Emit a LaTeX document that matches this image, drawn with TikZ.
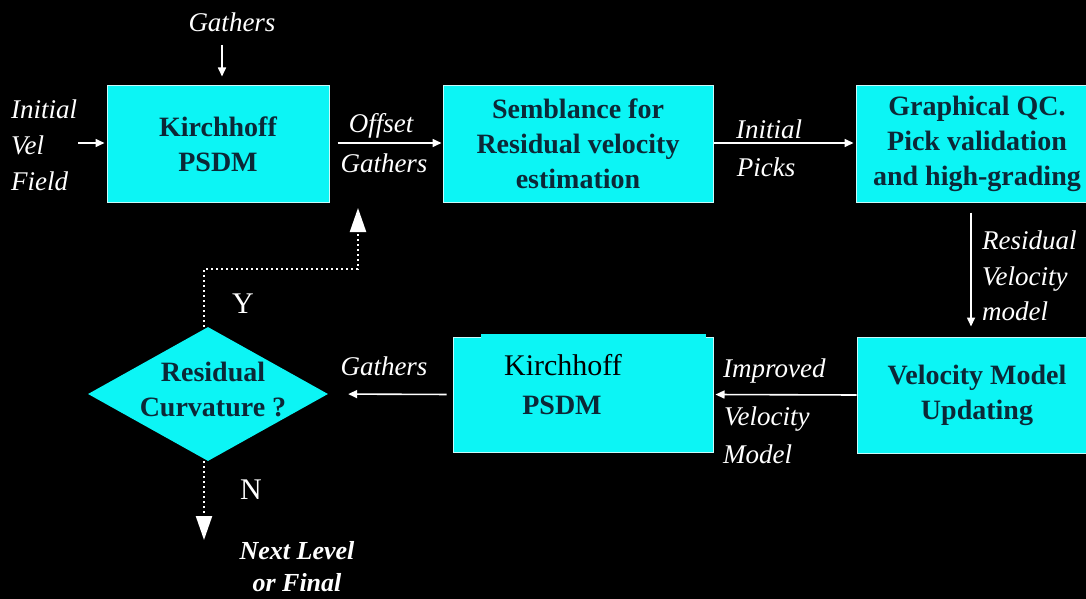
\documentclass[tikz,border=0pt]{standalone}
\usepackage{fontspec}
\setmainfont{Liberation Serif}
\usetikzlibrary{arrows.meta,shapes.geometric}
\definecolor{boxcyan}{RGB}{12,245,245}
\definecolor{boxtext}{RGB}{12,40,55}
\definecolor{boxedge}{RGB}{200,250,250}
\begin{document}
\begin{tikzpicture}[x=1pt,y=-1pt,
  box/.style={draw=boxedge, line width=1pt, fill=boxcyan, inner sep=0pt,
    align=center, text=boxtext, font=\fontsize{28}{35}\selectfont\bfseries},
  lbl/.style={text=white, inner sep=0pt, align=left, font=\fontsize{27}{36}\selectfont\itshape},
  yn/.style={text=white, inner sep=0pt, font=\fontsize{30}{36}\selectfont},
  arr/.style={draw=white, line width=1.6pt, -{Triangle[width=8pt,length=9pt]}},
  dotarr/.style={draw=white, line width=2.2pt, dash pattern=on 2pt off 3pt,
    -{Triangle[width=16pt,length=24pt]}}]
\fill[black] (0,0) rectangle (1086,599);
\useasboundingbox (0,0) rectangle (1086,599);

% boxes
\node[box, minimum width=222pt, minimum height=116pt] (kir1) at (218,144) {Kirchhoff\\PSDM};
\node[box, minimum width=270pt, minimum height=116pt] (sem) at (578,144) {Semblance for\\Residual velocity\\estimation};
\node[box, minimum width=242pt, minimum height=116pt] (gqc) at (977,144) {Graphical QC.\\Pick validation\\and high-grading};
\node[box, minimum width=240pt, minimum height=116pt] (vmu) at (977,395) {Velocity Model\\Updating};
\node[box, minimum width=260pt, minimum height=115pt] (kir2) at (583,394.5) {};
\fill[boxcyan] (481,334) rectangle (706,372);
\node[text=black, inner sep=0pt, font=\fontsize{30}{36}\selectfont] (kir2a) at (563,365) {Kirchhoff};
\node[text=boxtext, inner sep=0pt, font=\fontsize{28}{35}\selectfont\bfseries] (kir2b) at (562,405) {PSDM};

% decision
\node[diamond, fill=boxcyan, minimum width=240pt, minimum height=134pt, inner sep=0pt] (dec) at (208,394) {};
\node[align=center, text=boxtext, inner sep=0pt, font=\fontsize{28}{35}\selectfont\bfseries] (dect) at (213,389) {Residual\\Curvature ?};

% labels
\node[lbl] (gat1) at (232,22) {Gathers};
\node[lbl, anchor=west] (ivf) at (11,145) {Initial\\Vel\\Field};
\node[lbl] (off) at (381,126) {Offset};
\node[lbl] (ogat) at (384,163) {Gathers};
\node[lbl] (ini) at (769,129) {Initial};
\node[lbl] (pck) at (766,167) {Picks};
\node[lbl, anchor=west, font=\fontsize{27}{35.5}\selectfont\itshape] (rvm) at (982,276) {Residual\\Velocity\\model};
\node[lbl, anchor=west] (imp) at (723,371) {Improved};
\node[lbl, anchor=west] (vel) at (724,419) {Velocity};
\node[lbl, anchor=west] (mod) at (723,454) {Model};
\node[lbl] (gat2) at (384,366) {Gathers};
\node[yn] (ylbl) at (243,304) {Y};
\node[yn] (nlbl) at (251,490) {N};
\node[text=white, inner sep=0pt, align=center, font=\fontsize{26}{32}\selectfont\bfseries\itshape] (next) at (297,567) {Next Level\\or Final};

% connectors
\coordinate (g1s) at (222,45);
\draw[arr, shorten >=9pt] (g1s) -- (g1s |- kir1.north);
\coordinate (ivfe) at (78,143);
\draw[arr, shorten >=2pt] (ivfe) -- (ivfe -| kir1.west);
\coordinate (oy) at (0,143);
\draw[arr, shorten <=8pt, shorten >=1pt] (kir1.east |- oy) -- (sem.west |- oy);
\draw[arr, shorten >=2pt] (sem.east |- oy) -- (gqc.west |- oy);
\coordinate (rv) at (971,0);
\draw[arr, shorten <=10pt, shorten >=10pt] (gqc.south -| rv) -- (vmu.north -| rv);
\draw[arr, shorten >=2pt] (vmu.west) -- (kir2.east);
\draw[arr, shorten <=6pt, shorten >=20pt] (kir2.west) -- (dec.east);

\coordinate (yc1) at (204,269);
\coordinate (yc2) at (358,269);
\coordinate (ytip) at (358,208);
\draw[dotarr] (dec.north -| yc1) -- (yc1) -- (yc2) -- (ytip);
\coordinate (ntip) at (204,540);
\draw[dotarr] (dec.south -| ntip) -- (ntip);
\end{tikzpicture}
\end{document}
